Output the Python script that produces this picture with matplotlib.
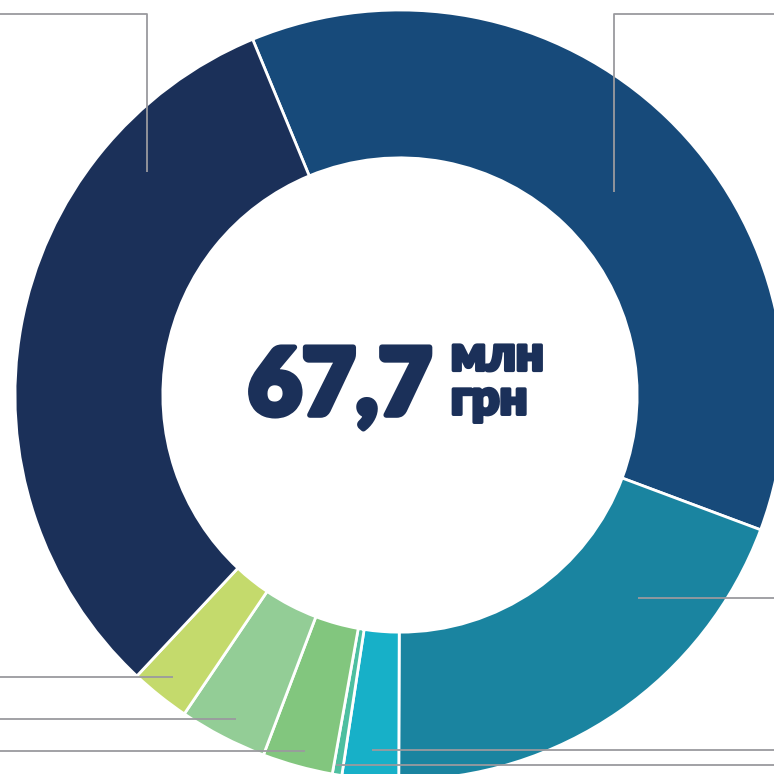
import matplotlib.pyplot as plt
import matplotlib.patheffects as pe

# частки бюджету, млн грн (оцінка з діаграми)
values = [25.0, 13.1, 1.6, 0.27, 2.0, 2.5, 1.7, 21.5]
colors = ['#174a7a', '#1a84a0', '#17b0c8', '#4dbfa0', '#82c67e', '#93cd96', '#c4da6c', '#1b3059']
total = '67,7'

fig = plt.figure(figsize=(7.74, 7.74), dpi=100)
ax = fig.add_axes([0, 0, 1, 1])

ax.pie(values, colors=colors, startangle=112.5, counterclock=False,
       radius=1, wedgeprops=dict(width=0.384, edgecolor='white', linewidth=2))

# центр кола у пікселях (400, 395), радіус 385
R = 385
ax.set_xlim(-400 / R, (774 - 400) / R)
ax.set_ylim(-(774 - 395) / R, 395 / R)
ax.set_aspect('equal')
ax.axis('off')

# виносні лінії (у пікселях зображення)
grey = '#9a9a9e'
leaders = [
    [(0, 13.5), (147, 13.5), (147, 172)],
    [(774, 13.5), (614, 13.5), (614, 192)],
    [(774, 598), (638, 598)],
    [(0, 677), (173, 677)],
    [(0, 719), (236, 719)],
    [(0, 751), (305, 751)],
    [(774, 750), (372, 750)],
    [(774, 765), (336, 765)],
]
for pts in leaders:
    xs = [(p[0] - 400) / R for p in pts]
    ys = [(395 - p[1]) / R for p in pts]
    ax.plot(xs, ys, color=grey, lw=1.3, solid_capstyle='butt')

navy = '#1b3059'
heavy = [pe.withStroke(linewidth=4, foreground=navy)]
heavy_s = [pe.withStroke(linewidth=2.5, foreground=navy)]
ax.text(0.083, -0.052, total, ha='right', va='baseline', fontsize=67,
        fontweight='heavy', family='Lato', color=navy, path_effects=heavy)
ax.text(0.132, 0.064, 'млн', ha='left', va='baseline', fontsize=35,
        fontweight='heavy', family='Lato', color=navy, path_effects=heavy_s)
ax.text(0.132, -0.05, 'грн', ha='left', va='baseline', fontsize=35,
        fontweight='heavy', family='Lato', color=navy, path_effects=heavy_s)

fig.savefig('out.png', dpi=100)
